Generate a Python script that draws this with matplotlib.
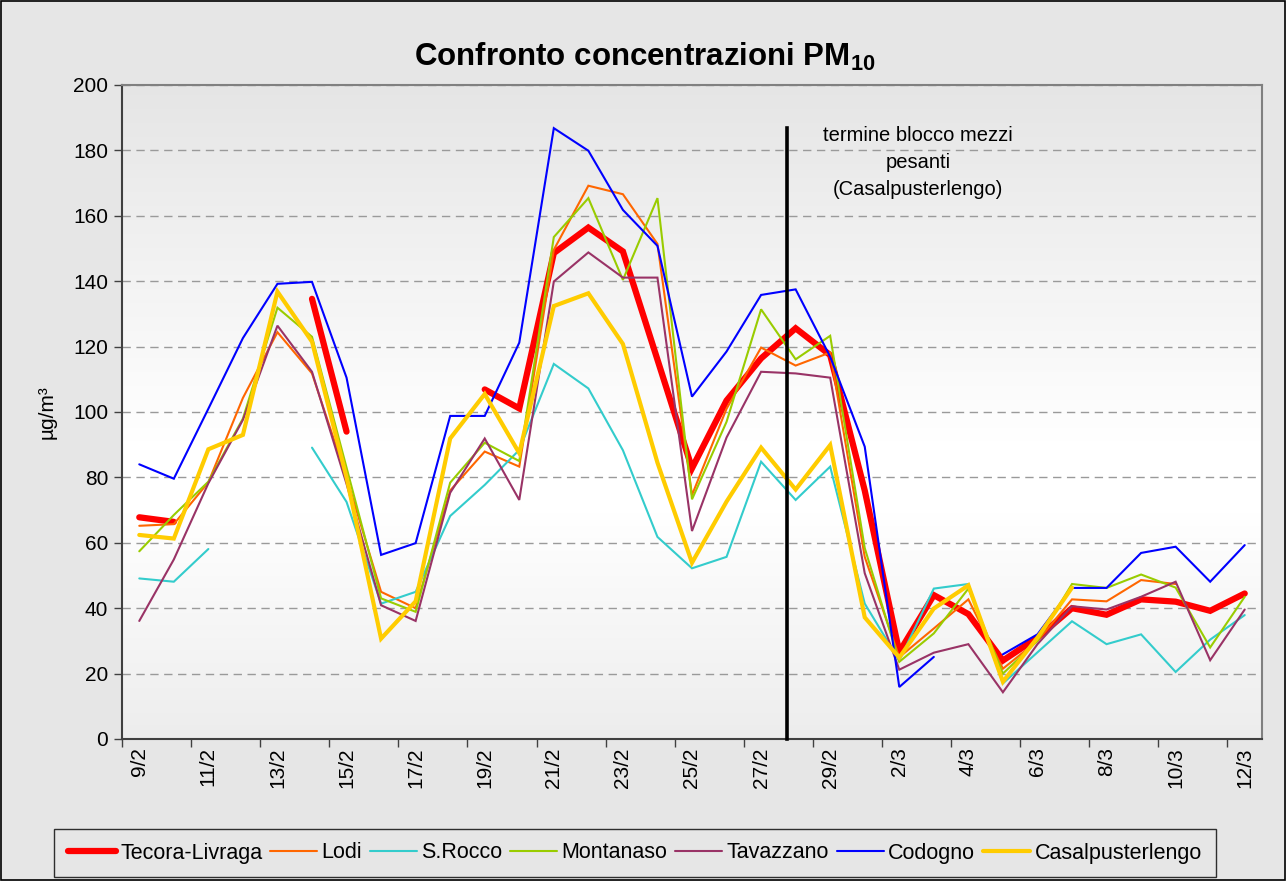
import numpy as np
import matplotlib
matplotlib.use("Agg")
import matplotlib.pyplot as plt
from matplotlib.patches import Rectangle

plt.rcParams['font.family'] = ['Liberation Sans', 'DejaVu Sans']
plt.rcParams['mathtext.fontset'] = 'custom'
plt.rcParams['mathtext.rm'] = 'Liberation Sans'
plt.rcParams['mathtext.bf'] = 'Liberation Sans:bold'

nan = np.nan
dates = ["9/2", "10/2", "11/2", "12/2", "13/2", "14/2", "15/2", "16/2", "17/2", "18/2",
         "19/2", "20/2", "21/2", "22/2", "23/2", "24/2", "25/2", "26/2", "27/2", "28/2",
         "29/2", "1/3", "2/3", "3/3", "4/3", "5/3", "6/3", "7/3", "8/3", "9/3",
         "10/3", "11/3", "12/3"]

tecora = [67.8, 66.4, nan, nan, nan, 134.6, 94.0, nan, nan, nan, 106.9, 101.1, 148.6, 156.4,
          149.1, 116, 82.8, 103.5, 116.4, 125.6, 117.4, 76, 26.6, 44, 38.2, 24, 31, 40, 38,
          42.7, 42, 39.2, 44.5]
lodi = [65.2, 65.7, 78.5, 104.3, 124.4, 111.8, 80, 45, 40, 76, 87.9, 83.3, 149.6, 169.2,
        166.6, 151.4, 74.6, 101, 119.7, 114.2, 118.2, 55.7, 25, 33.8, 42.7, 21.5, 30, 42.7,
        42.1, 48.6, 47.4, nan, nan]
srocco = [49.1, 48.1, 58.1, nan, nan, 89.1, 72.5, 41.4, 45, 68.2, 77.7, 88.4, 114.7, 107.2,
          88.3, 61.8, 52.2, 55.7, 84.8, 73.1, 83.3, 41.4, 24, 46, 47.4, 17, 26.5, 36, 29, 32,
          20.5, 30.4, 37.9]
montanaso = [57.4, 68.5, 78.7, 98, 131.9, 123, 83, 43, 38.9, 78.4, 90.6, 85, 153.5, 165.4,
             140.4, 165.4, 73.3, 97, 131.4, 116.1, 123.3, 58.4, 23.6, 32.3, 46, 20, 30, 47.4,
             46.2, 50.3, 46.3, 28, 43.5]
tavazzano = [36.1, 54.9, 78.2, 97.6, 126.4, 112.3, 78, 40.9, 36.1, 75.3, 91.9, 73.1, 139.9,
             148.8, 141.1, 141.1, 63.6, 92.2, 112.3, 111.8, 110.5, 50.7, 21.2, 26.4, 29, 14.3,
             29, 40.6, 39.6, 43.5, 48.1, 24.1, 39.6]
codogno = [84, 79.6, 101, 122.6, 139.2, 139.8, 110.5, 56.3, 59.9, 98.8, 98.8, 121.2, 186.8,
           179.9, 161.8, 150.8, 104.7, 118.5, 135.8, 137.5, 116.9, 89.4, 15.9, 25.1, nan, 25.9,
           32, 46.2, 46.2, 56.9, 58.8, 48.1, 59.3]
casal = [62.4, 61.3, 88.6, 93, 136.8, 121.5, 80, 30.7, 42.1, 91.9, 105.5, 87.4, 132.4, 136.3,
         120.8, 84.5, 53.9, 72.6, 89.1, 76.3, 89.9, 37.2, 24.9, 39.9, 47, 17.5, 31, 46.3, nan,
         nan, nan, nan, nan]

series_names = ["Tecora-Livraga", "Lodi", "S.Rocco", "Montanaso", "Tavazzano", "Codogno",
                "Casalpusterlengo"]
series_values = [tecora, lodi, srocco, montanaso, tavazzano, codogno, casal]
series_colors = ["#ff0000", "#ff6600", "#33cccc", "#99cc00", "#993366", "#0000ff", "#ffcc00"]
series_widths = [4.5, 1.5, 1.5, 1.5, 1.5, 1.5, 3.0]

W, H = 1286, 881
fig = plt.figure(figsize=(W / 100, H / 100), dpi=100, facecolor="#e6e6e6")
fig.patches.append(Rectangle((0.0008, 0.0011), 0.9984, 0.9978, transform=fig.transFigure,
                             fill=False, edgecolor="black", linewidth=1.2, zorder=10))

left, right, top, bottom = 122, 1262, 85, 739
ax = fig.add_axes([left / W, 1 - bottom / H, (right - left) / W, (bottom - top) / H])

# gradient background of plot area
grad = np.concatenate([np.linspace(0.90, 1.0, 55), np.linspace(1.0, 1.0, 10), np.linspace(1.0, 0.93, 35)])
img = np.dstack([grad, grad, grad])[:, None, :].reshape(len(grad), 1, 3)
ax.imshow(img, extent=[0, 1, 0, 1], transform=ax.transAxes, aspect='auto', zorder=0,
          interpolation='bilinear')

x = np.arange(len(dates))
for name, vals, col, lw in zip(series_names, series_values, series_colors, series_widths):
    ax.plot(x, vals, color=col, lw=lw, label=name, zorder=3, solid_capstyle='round',
            solid_joinstyle='miter')

ax.set_xlim(-0.5, len(dates) - 0.5)
ax.set_ylim(0, 200)
ax.set_yticks(np.arange(0, 201, 20))
ax.grid(axis='y', color='#9a9a9a', linestyle=(0, (6, 4)), linewidth=1.0, zorder=1)
ax.set_axisbelow(True)

ax.set_xticks(x[::2])
ax.set_xticklabels(dates[::2], rotation=90, fontsize=15)
ax.set_xticks(np.arange(-0.5, len(dates), 2), minor=True)
ax.tick_params(axis='x', which='major', length=0, pad=6)
ax.tick_params(axis='x', which='minor', length=6, width=1, direction='out', color='#404040')
ax.tick_params(axis='y', length=6, width=1, direction='out', labelsize=15, color='#404040',
               pad=4)

for s in ['top', 'right']:
    ax.spines[s].set_color('#808080')
    ax.spines[s].set_linewidth(1.5)
for s in ['left', 'bottom']:
    ax.spines[s].set_color('#404040')
    ax.spines[s].set_linewidth(1.5)

ax.set_ylabel("µg/m³", fontsize=15, labelpad=12)

# vertical marker line
ax.plot([18.76, 18.76], [0, 187], color='black', lw=2.6, zorder=5, clip_on=False)
ax.text(22.55, 187.5, "termine blocco mezzi\npesanti\n(Casalpusterlengo)", ha='center',
        va='top', fontsize=14.5, linespacing=1.55, zorder=6)

fig.text(645 / W, 1 - 57 / H, r"Confronto concentrazioni PM$_\mathbf{10}$", ha='center',
         va='center', fontsize=22.5, fontweight='bold')

leg = fig.legend(loc='center', bbox_to_anchor=(635 / W, 1 - 853 / H), ncol=7, fontsize=15.5,
                 frameon=True, fancybox=False, handlelength=2.2, handletextpad=0.2,
                 columnspacing=0.35, borderpad=0.65)
leg.get_frame().set_edgecolor('black')
leg.get_frame().set_facecolor('#e6e6e6')
leg.get_frame().set_linewidth(1.0)

fig.savefig("out.png", dpi=100, facecolor=fig.get_facecolor())
